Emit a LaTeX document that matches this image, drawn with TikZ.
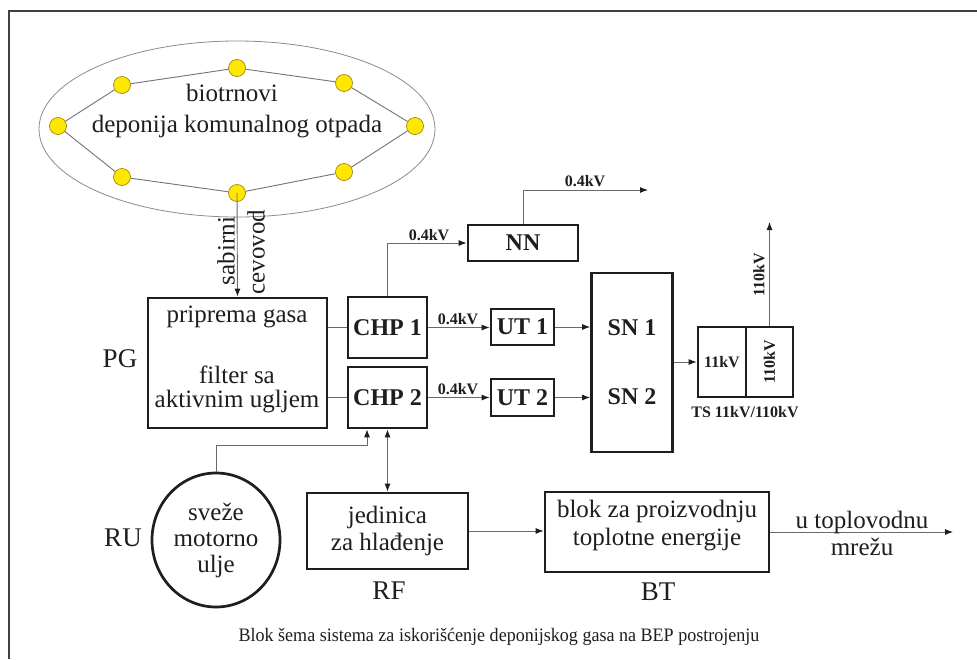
\documentclass[tikz,border=0pt]{standalone}
\usepackage{fontspec}
\setmainfont{Liberation Serif}
\newfontfamily\serifrm{Liberation Serif}
\newfontfamily\capfont[FakeStretch=0.95]{Liberation Serif}
\usetikzlibrary{arrows.meta,shapes.geometric}
\definecolor{dotfill}{RGB}{255,232,0}
\definecolor{dotedge}{RGB}{160,135,20}
\definecolor{ink}{RGB}{30,30,30}
\definecolor{wire}{RGB}{105,105,105}
\begin{document}
\begin{tikzpicture}[x=1pt,y=-1pt,
  every node/.style={text=ink, inner sep=0pt},
  box/.style={draw=ink, line width=2.7pt, rectangle},
  conn/.style={draw=wire, line width=0.9pt},
  arr/.style={conn, -{Latex[length=8pt,width=6pt,color=ink]}},
  biarr/.style={conn, {Latex[length=8pt,width=6pt,color=ink]}-{Latex[length=8pt,width=6pt,color=ink]}},
  dot/.style={circle, fill=dotfill, draw=dotedge, line width=0.7pt, minimum size=17pt},
  txt/.style={font=\serifrm\fontsize{25}{27}\selectfont, align=center},
  btxt/.style={font=\serifrm\fontsize{24}{26}\selectfont\bfseries},
  stxt/.style={font=\serifrm\fontsize{16}{18}\selectfont\bfseries},
  lbl/.style={font=\serifrm\fontsize{27}{29}\selectfont}
]
\useasboundingbox (0,0) rectangle (977,659);
\fill[white] (0,0) rectangle (977,659);
\draw[line width=2pt, black!75] (9,659) -- (9,11) -- (977,11);

% landfill
\node[draw=black!45, line width=0.8pt, ellipse, minimum width=396pt, minimum height=176pt] (landfill) at (237,129) {};
\node[dot] (d1) at (237,68) {};
\node[dot] (d2) at (344,83) {};
\node[dot] (d3) at (415,126) {};
\node[dot] (d4) at (344,172) {};
\node[dot] (d5) at (237,193) {};
\node[dot] (d6) at (122,177) {};
\node[dot] (d7) at (58,126) {};
\node[dot] (d8) at (122,85) {};
\draw[conn, draw=black!55] (d1) -- (d2) -- (d3) -- (d4) -- (d5) -- (d6) -- (d7) -- (d8) -- (d1);
\node[txt] (bio) at (232,93) {biotrnovi};
\node[txt] (dep) at (237,127) {deponija komunalnog otpada};

% boxes
\node[box, minimum width=179pt, minimum height=130pt] (pg) at (237.5,363) {};
\node[box, minimum width=79pt, minimum height=61pt, btxt] (chp1) at (387.5,327.5) {CHP 1};
\node[box, minimum width=79pt, minimum height=61pt, btxt] (chp2) at (387.5,397.5) {CHP 2};
\node[box, minimum width=110pt, minimum height=36pt, btxt] (nn) at (523,243) {NN};
\node[box, minimum width=63pt, minimum height=36pt, btxt] (ut1) at (522.5,327) {UT 1};
\node[box, minimum width=63pt, minimum height=37pt, btxt] (ut2) at (522.5,397.5) {UT 2};
\node[box, minimum width=81pt, minimum height=179pt] (sn) at (632,362.5) {};
\node[btxt] (sn1) at (632,328) {SN 1};
\node[btxt] (sn2) at (632,397) {SN 2};
\node[box, minimum width=48pt, minimum height=70pt, stxt] (tsa) at (722,362) {11kV};
\node[box, minimum width=47pt, minimum height=70pt] (tsb) at (769.5,362) {};
\node[stxt, rotate=90] (tsbt) at (769.5,362) {110kV};
\node[stxt] (tslbl) at (745,412) {TS 11kV/110kV};
\node[box, ellipse, minimum width=128pt, minimum height=134pt, txt, font=\serifrm\fontsize{25}{26}\selectfont] (ru) at (216,540) {sveže\\motorno\\ulje};
\node[box, minimum width=161pt, minimum height=76pt, txt, font=\serifrm\fontsize{25}{27}\selectfont] (rf) at (387.5,531) {jedinica\\za hlađenje};
\node[box, minimum width=224pt, minimum height=80pt] (bt) at (657,532) {};
\node[txt, font=\serifrm\fontsize{25}{28}\selectfont] (bttxt) at (657,526) {blok za proizvodnju\\toplotne energije};

% PG text
\node[txt] (pg1) at (237,317) {priprema gasa};
\node[txt] (pg2) at (237,375) {filter sa};
\node[txt] (pg3) at (237,402) {aktivnim ugljem};

% side labels
\node[lbl] (pglbl) at (120,359) {PG};
\node[lbl] (rulbl) at (123,538) {RU};
\node[lbl] (rflbl) at (389,591) {RF};
\node[lbl] (btlbl) at (658,592) {BT};

% sabirni cevovod
\draw[arr] (d5.center) -- (pg.north);
\node[txt, rotate=90] (sab) at (226,251) {sabirni};
\node[txt, rotate=90] (cev) at (256,252) {cevovod};

% electrical connections
\draw[conn] (chp1.west -| pg.east) -- (chp1.west);
\draw[conn] (chp2.west -| pg.east) -- (chp2.west);
\draw[arr] (chp1.north) |- (nn.west);
\node[stxt, anchor=base] (v1) at (429,240) {0.4kV};
\coordinate (nnout) at (648,190);
\draw[arr] (nn.north) |- (nnout);
\node[stxt, anchor=base] (v2) at (585,186) {0.4kV};
\draw[arr] (chp1.east) -- (chp1.east -| ut1.west);
\node[stxt, anchor=base] (v3) at (458,324) {0.4kV};
\draw[arr] (chp2.east) -- (chp2.east -| ut2.west);
\node[stxt, anchor=base] (v4) at (458,394) {0.4kV};
\draw[arr] (ut1.east) -- (ut1.east -| sn.west);
\draw[arr] (ut2.east) -- (ut2.east -| sn.west);
\draw[arr] (sn.east |- tsa.west) -- (tsa.west);
\coordinate (tsup) at (769.5,222);
\draw[arr] (tsb.north) -- (tsup);
\node[stxt, rotate=90] (v5) at (759,275) {110kV};

% oil and cooling
\coordinate (jn) at (367,445);
\draw[arr] (ru.north) |- (jn) -- (jn |- chp2.south);
\draw[biarr] (chp2.south) -- (rf.north);
\draw[arr] (rf.east) -- (rf.east -| bt.west);
\coordinate (heat) at (953,532);
\draw[arr] (bt.east) -- (heat);
\node[txt] (heatlbl) at (862,533) {u toplovodnu\\mrežu};

% caption
\node[font=\capfont\fontsize{19}{21}\selectfont] (cap) at (499,637) {Blok šema sistema za iskorišćenje deponijskog gasa na BEP postrojenju};
\end{tikzpicture}
\end{document}
